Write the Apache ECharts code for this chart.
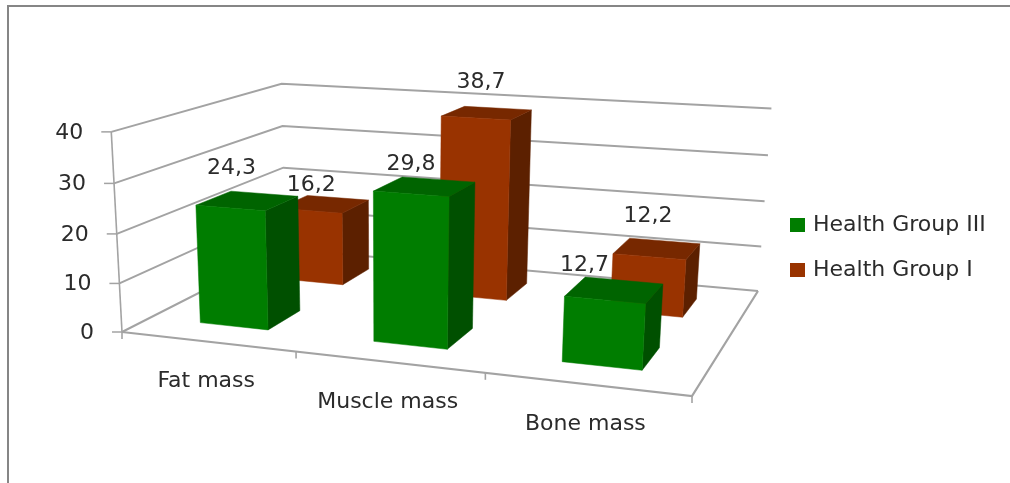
<!DOCTYPE html>
<html>
<head>
<meta charset="utf-8">
<title>Body composition by health group</title>
<style>html,body{margin:0;padding:0;background:#fff}#chart{width:1010px;height:483px}</style>
<script src="https://cdn.jsdelivr.net/npm/echarts@6/dist/echarts.min.js"></script>
</head>
<body>
<div id="chart"></div>
<script>
// Chart data
const categories = ['Fat mass', 'Muscle mass', 'Bone mass'];
const groupThree = [24.3, 29.8, 12.7];
const groupOne = [16.2, 38.7, 12.2];
const valueTicks = [0, 10, 20, 30, 40];
const seriesNames = ['Health Group III', 'Health Group I'];

// Look of the chart
const FONT = '"DejaVu Sans", sans-serif';
const FONT_SIZE = 22;
const TEXT = '#2b2b2b';
const RULE = '#a3a3a3';
const PALETTE = {
  green: { front: '#007d00', top: '#006400', side: '#005000' },
  rust: { front: '#993300', top: '#772800', side: '#5c2000' }
};
const VALUE_MAX = 40;

// Where the box of the 3D scene lands on the page: floor corners, then wall tops.
const floorCorners = [[122, 332], [692, 396], [758, 291], [285, 249]];
const wallTops = [
  { s: 0, t: 0, at: [110, 132] },
  { s: 0, t: 1, at: [283, 84] },
  { s: 1, t: 1, at: [771, 108] }
];

// Builds a projective map from (s along categories, t into depth, r up the value axis).
function buildCamera(c, tops) {
  const [[x0, y0], [x1, y1], [x2, y2], [x3, y3]] = c;
  const dx1 = x1 - x2, dx2 = x3 - x2, sx = x0 - x1 + x2 - x3;
  const dy1 = y1 - y2, dy2 = y3 - y2, sy = y0 - y1 + y2 - y3;
  const den = dx1 * dy2 - dx2 * dy1;
  const g = (sx * dy2 - dx2 * sy) / den;
  const h = (dx1 * sy - sx * dy1) / den;
  const a = x1 - x0 + g * x1, b = x3 - x0 + h * x3;
  const d = y1 - y0 + g * y1, e = y3 - y0 + h * y3;
  // Least squares for the column that carries the vertical direction.
  const rows = tops.map(p => {
    const w = g * p.s + h * p.t + 1;
    return {
      X: p.at[0], Y: p.at[1],
      Rx: p.at[0] * w - (a * p.s + b * p.t + x0),
      Ry: p.at[1] * w - (d * p.s + e * p.t + y0)
    };
  });
  const mean = key => rows.reduce((m, q) => m + q[key], 0) / rows.length;
  const mX = mean('X'), mY = mean('Y'), mRx = mean('Rx'), mRy = mean('Ry');
  let num = 0, dem = 0;
  rows.forEach(q => {
    num += (q.X - mX) * (q.Rx - mRx) + (q.Y - mY) * (q.Ry - mRy);
    dem += (q.X - mX) ** 2 + (q.Y - mY) ** 2;
  });
  const k = -num / dem;
  const p = mRx + mX * k, m = mRy + mY * k;
  return (s, t, r) => {
    const w = g * s + h * t + k * r + 1;
    return [(a * s + b * t + p * r + x0) / w, (d * s + e * t + m * r + y0) / w];
  };
}
const project = buildCamera(floorCorners, wallTops);

// Depth rows of the two groups, as fractions of the floor depth.
const ROW_DEPTH = { green: [0.15, 0.35], rust: [0.65, 0.85] };
const BAR_WIDTH = 0.4; // fraction of a category band

// Pixel nudges of the value labels from the centre of each bar's top.
const labelNudge = {
  green: [[-16, -32], [-14, -22], [-30, -25]],
  rust: [[-13, -19], [-6, -31], [-9, -32]]
};

// Reads an axis position back as scene fractions of the hidden plotting grid.
function sceneFromAxes(api, params, catIndex, value) {
  const pt = api.coord([catIndex, value]);
  const cs = params.coordSys;
  return { s: (pt[0] - cs.x) / cs.width, r: (cs.y + cs.height - pt[1]) / cs.height };
}

const poly = (points, fill) => ({
  type: 'polygon',
  shape: { points },
  style: { fill, stroke: fill, lineWidth: 0.5 }
});
const rule = (points, width) => ({
  type: 'polyline',
  shape: { points },
  style: { fill: null, stroke: RULE, lineWidth: width || 2 }
});
const label = (text, x, y, align) => ({
  type: 'text',
  style: {
    text, x, y, fill: TEXT, font: FONT_SIZE + 'px ' + FONT,
    textAlign: align || 'center', textVerticalAlign: 'middle'
  }
});

function barSeries(name, values, key) {
  const colors = PALETTE[key];
  const [t0, t1] = ROW_DEPTH[key];
  return {
    type: 'custom',
    name,
    silent: true,
    clip: false,
    itemStyle: { color: colors.front },
    encode: { x: 0, y: 1 },
    data: values.map((v, i) => [i, v]),
    renderItem(params, api) {
      const i = api.value(0), v = api.value(1);
      const { s, r } = sceneFromAxes(api, params, i, v);
      const half = api.size([1, 0])[0] / params.coordSys.width * BAR_WIDTH / 2;
      const s0 = s - half, s1 = s + half;
      const fl = project(s0, t0, 0), fr = project(s1, t0, 0), br = project(s1, t1, 0);
      const tfl = project(s0, t0, r), tfr = project(s1, t0, r);
      const tbr = project(s1, t1, r), tbl = project(s0, t1, r);
      const mid = project(s, (t0 + t1) / 2, r);
      const nudge = labelNudge[key][i];
      return {
        type: 'group',
        children: [
          poly([fr, br, tbr, tfr], colors.side),
          poly([tfl, tfr, tbr, tbl], colors.top),
          poly([fl, fr, tfr, tfl], colors.front),
          label(String(v).replace('.', ','), mid[0] + nudge[0], mid[1] + nudge[1])
        ]
      };
    }
  };
}

// Walls, floor and value axis of the box.
const valueFrameSeries = {
  type: 'custom',
  silent: true,
  clip: false,
  encode: { x: 0, y: 1 },
  data: valueTicks.map(v => [0, v]),
  renderItem(params, api) {
    const v = api.value(1);
    const { r } = sceneFromAxes(api, params, 0, v);
    const front = project(0, 0, r), back = project(0, 1, r), right = project(1, 1, r);
    const children = [
      rule([front, back, right]),
      rule([[front[0] - 10, front[1]], front], 1.5),
      label(String(v), front[0] - 28, front[1] + 1, 'right')
    ];
    if (v === 0) {
      children.push(rule([project(0, 0, 0), project(1, 0, 0), project(1, 1, 0)], 2.2));
      children.push(rule([project(0, 0, 0), project(0, 0, 1)], 1.6));
    }
    return { type: 'group', children };
  }
};

// Category ticks and names along the front edge of the floor.
const categoryLabelDrop = 40;
const categoryFrameSeries = {
  type: 'custom',
  silent: true,
  clip: false,
  encode: { x: 0, y: 1 },
  data: categories.map((c, i) => [i, 0]),
  renderItem(params, api) {
    const i = api.value(0);
    const { s } = sceneFromAxes(api, params, i, 0);
    const half = api.size([1, 0])[0] / params.coordSys.width / 2;
    const edge = project(s + half, 0, 0);
    const mid = project(s, 0, 0);
    const children = [
      rule([edge, [edge[0], edge[1] + 7]], 1.6),
      label(categories[i], mid[0] - 1, mid[1] + categoryLabelDrop)
    ];
    if (i === 0) {
      const start = project(0, 0, 0);
      children.push(rule([start, [start[0], start[1] + 7]], 1.6));
    }
    return { type: 'group', children };
  }
};

const chart = echarts.init(document.getElementById('chart'), null, { renderer: 'canvas' });
chart.setOption({
  animation: false,
  backgroundColor: '#fff',
  // The plotting grid only carries the scales; the scene is projected from it.
  grid: { left: 100, right: 220, top: 80, bottom: 80 },
  xAxis: { type: 'category', data: categories, show: false },
  yAxis: { type: 'value', min: 0, max: VALUE_MAX, interval: 10, show: false },
  legend: {
    left: 785,
    top: 209,
    orient: 'vertical',
    selectedMode: false,
    data: seriesNames,
    icon: 'rect',
    itemWidth: 15,
    itemHeight: 14,
    itemGap: 23,
    textStyle: { fontFamily: FONT, fontSize: FONT_SIZE, color: TEXT, padding: [0, 0, 0, 3] }
  },
  graphic: [{
    type: 'polyline',
    silent: true,
    shape: { points: [[8, 483], [8, 6], [1010, 6]] },
    style: { fill: null, stroke: '#868686', lineWidth: 2 }
  }],
  series: [
    valueFrameSeries,
    categoryFrameSeries,
    barSeries(seriesNames[1], groupOne, 'rust'),
    barSeries(seriesNames[0], groupThree, 'green')
  ]
});
</script>
</body>
</html>
